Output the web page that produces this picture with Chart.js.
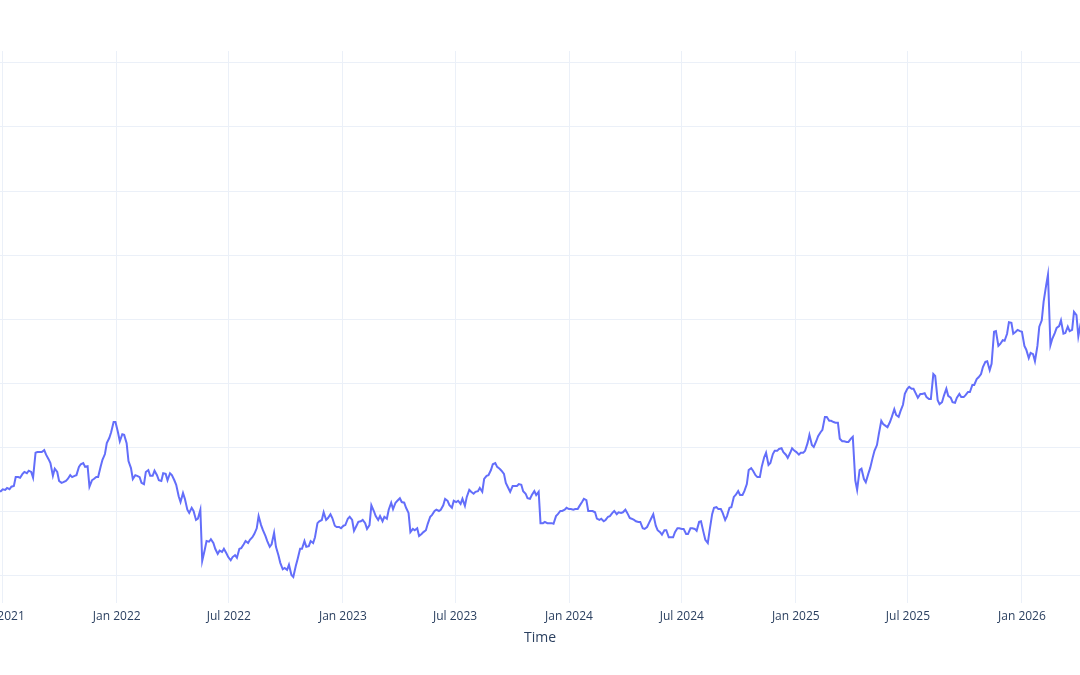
<!DOCTYPE html>
<html lang="en">
<head>
<meta charset="UTF-8">
<title>Time</title>
<script src="https://cdn.jsdelivr.net/npm/chart.js@4/dist/chart.umd.min.js"></script>
<style>
  html, body { margin: 0; padding: 0; background: #fff; }
  canvas { display: block; }
</style>
</head>
<body>
<canvas id="chart" width="1080" height="675"></canvas>
<script>
// closes sampled twice a week (Monday, Thursday), starting on firstMonday
const firstMonday = '2021-06-21';
const sampleWeekdays = [0, 3];
const closes = [
  53.0, 53.1, 53.1, 53.4, 53.3, 53.6, 53.4, 53.8, 53.9, 55.3, 55.3, 55.2,
  55.8, 56.1, 55.9, 56.3, 56.1, 55.2, 59.1, 59.2, 59.2, 59.2, 59.5, 58.8,
  58.1, 57.5, 55.5, 56.6, 56.1, 54.7, 54.4, 54.5, 54.7, 55.0, 55.6, 55.3,
  55.5, 55.6, 56.9, 57.3, 57.5, 56.9, 57.0, 53.8, 54.8, 55.0, 55.3, 55.3,
  56.9, 58.0, 58.9, 60.6, 61.4, 62.3, 63.9, 63.9, 62.3, 60.9, 62.0, 61.9,
  60.6, 57.8, 56.7, 55.0, 55.6, 55.5, 55.3, 54.4, 54.2, 56.1, 56.4, 55.5,
  55.5, 56.3, 55.6, 54.8, 54.7, 55.9, 55.8, 54.8, 55.9, 55.6, 54.8, 54.1,
  52.3, 51.4, 52.8, 51.9, 50.2, 49.7, 50.5, 50.0, 48.6, 48.8, 50.2, 42.2,
  43.9, 45.3, 45.2, 45.6, 45.0, 44.1, 43.3, 43.8, 43.6, 44.1, 43.4, 42.8,
  42.3, 42.8, 43.1, 42.7, 44.1, 44.2, 44.8, 45.3, 45.0, 45.5, 45.9, 46.4,
  47.3, 49.2, 47.8, 47.0, 46.1, 45.3, 44.4, 44.8, 46.6, 44.4, 43.1, 41.9,
  40.9, 41.1, 40.8, 41.6, 40.0, 39.7, 41.4, 42.5, 44.1, 44.1, 45.3, 44.4,
  44.5, 45.3, 45.0, 45.9, 48.1, 48.4, 48.6, 49.8, 48.6, 48.9, 49.5, 48.9,
  47.7, 47.5, 47.5, 47.3, 47.7, 47.8, 48.8, 49.1, 48.6, 46.9, 47.7, 48.3,
  48.4, 48.6, 48.1, 47.2, 47.8, 50.9, 50.0, 49.2, 48.6, 49.2, 48.4, 49.1,
  48.8, 50.2, 51.3, 50.3, 51.3, 51.6, 52.0, 51.4, 51.3, 50.5, 49.7, 46.7,
  47.2, 47.0, 47.3, 46.1, 46.4, 46.7, 47.0, 48.0, 49.1, 49.4, 50.0, 50.2,
  50.0, 50.2, 50.9, 51.9, 51.6, 50.9, 50.5, 51.6, 51.4, 51.6, 51.1, 51.9,
  50.8, 52.2, 53.3, 53.0, 52.7, 53.0, 53.1, 53.6, 53.0, 55.0, 55.5, 55.6,
  56.4, 57.3, 57.5, 56.9, 56.6, 56.3, 55.8, 54.4, 53.6, 53.0, 53.9, 53.9,
  53.9, 54.2, 54.1, 53.1, 52.7, 52.0, 51.9, 52.5, 53.1, 52.5, 53.0, 48.1,
  48.1, 48.3, 48.1, 48.1, 48.1, 48.0, 49.2, 49.5, 50.0, 50.0, 50.2, 50.5,
  50.3, 50.3, 50.2, 50.3, 50.3, 50.8, 51.4, 51.9, 51.7, 50.0, 50.0, 50.0,
  49.8, 48.8, 48.6, 48.8, 48.4, 48.6, 49.1, 49.2, 49.7, 50.0, 49.5, 49.8,
  49.7, 49.8, 50.2, 49.7, 48.9, 48.8, 48.6, 48.4, 48.3, 48.3, 47.3, 47.2,
  47.5, 48.1, 48.9, 49.5, 47.7, 47.0, 46.7, 46.3, 47.0, 47.0, 45.9, 45.9,
  45.9, 46.7, 47.3, 47.3, 47.2, 47.2, 46.4, 46.4, 47.3, 47.3, 47.2, 46.9,
  48.3, 48.4, 46.7, 45.5, 45.0, 47.0, 49.5, 50.5, 50.6, 50.3, 50.3, 49.7,
  48.6, 49.2, 50.5, 50.6, 52.2, 52.5, 53.1, 52.5, 52.5, 53.1, 54.2, 56.4,
  56.7, 56.3, 55.6, 55.3, 55.3, 56.9, 58.4, 59.1, 57.2, 57.5, 58.9, 59.4,
  59.4, 59.7, 59.8, 59.2, 58.8, 58.3, 59.1, 59.8, 59.4, 59.2, 58.8, 59.1,
  59.1, 59.4, 60.6, 61.9, 60.3, 60.0, 60.9, 61.7, 62.3, 62.7, 64.7, 64.7,
  64.1, 64.1, 63.9, 63.8, 63.8, 61.3, 60.9, 60.9, 60.8, 60.8, 61.3, 61.6,
  54.8, 53.3, 56.4, 56.6, 55.0, 54.5, 55.8, 56.7, 58.3, 59.4, 60.3, 62.0,
  64.1, 63.6, 63.3, 63.1, 63.9, 64.7, 65.9, 65.0, 64.7, 65.6, 66.6, 68.3,
  69.1, 69.4, 69.1, 69.1, 68.3, 67.7, 68.3, 68.3, 68.4, 67.8, 67.5, 67.5,
  71.4, 71.1, 67.3, 66.7, 67.0, 68.0, 69.1, 68.0, 67.7, 67.0, 66.9, 67.7,
  68.3, 67.8, 67.8, 68.1, 68.6, 68.6, 69.7, 69.7, 70.6, 70.9, 71.4, 72.5,
  73.3, 73.4, 72.0, 73.0, 78.0, 78.1, 75.8, 76.1, 76.7, 76.6, 77.7, 79.5,
  79.4, 77.7, 78.0, 78.3, 78.1, 78.0, 75.8, 75.2, 73.9, 74.7, 74.5, 73.4,
  75.8, 78.8, 79.8, 82.7, 85.2, 86.9, 75.9, 76.9, 77.8, 78.6, 78.9, 79.8,
  77.7, 77.8, 78.8, 78.1, 78.3, 81.1, 80.6, 77.3, 79.4, 79.8, 79.8
];

const tickDates  = ['2021-07-01', '2022-01-01', '2022-07-01', '2023-01-01', '2023-07-01',
                    '2024-01-01', '2024-07-01', '2025-01-01', '2025-07-01', '2026-01-01'];
const tickLabels = ['Jul 2021', 'Jan 2022', 'Jul 2022', 'Jan 2023', 'Jul 2023',
                    'Jan 2024', 'Jul 2024', 'Jan 2025', 'Jul 2025', 'Jan 2026'];
const yTicks = [40, 50, 60, 70, 80, 90, 100, 110, 120];

// visible window (the plot is cropped on both sides)
const xMin = Date.parse('2021-06-26T15:00:00Z');
const xMax = Date.parse('2026-04-04T17:00:00Z');
const yMin = 35.625;
const yMax = 121.875;

const DAY = 864e5;
const start = Date.parse(firstMonday);
const points = closes.map((v, i) => ({
  x: start + (Math.floor(i / 2) * 7 + sampleWeekdays[i % 2]) * DAY,
  y: v,
}));

const gridColor = '#ebf0f8';
const fontColor = '#2a3f5f';
const fontFamily = '"Open Sans", verdana, arial, sans-serif';

new Chart(document.getElementById('chart'), {
  type: 'line',
  data: {
    datasets: [{
      data: points,
      borderColor: '#636efa',
      borderWidth: 2,
      pointRadius: 0,
      tension: 0,
      fill: false,
    }],
  },
  options: {
    responsive: false,
    animation: false,
    devicePixelRatio: 1,
    layout: { padding: { top: 51, bottom: 29, left: 0, right: 0 } },
    plugins: { legend: { display: false }, tooltip: { enabled: false } },
    scales: {
      x: {
        type: 'linear',
        min: xMin,
        max: xMax,
        afterBuildTicks: s => { s.ticks = tickDates.map(d => ({ value: Date.parse(d) })); },
        // keep the plot full width; first/last labels may run off the edge
        afterFit: s => { s.paddingLeft = 0; s.paddingRight = 0; s.height = 43; },
        grid: { color: gridColor, lineWidth: 1, drawTicks: false },
        border: { display: false },
        ticks: {
          padding: 6,
          color: fontColor,
          font: { family: fontFamily, size: 12 },
          autoSkip: false,
          maxRotation: 0,
          callback: (v, i) => tickLabels[i],
        },
        title: {
          display: true,
          text: 'Time',
          color: fontColor,
          font: { family: fontFamily, size: 14 },
          padding: { top: 0, bottom: 0 },
        },
      },
      y: {
        min: yMin,
        max: yMax,
        afterBuildTicks: s => { s.ticks = yTicks.map(v => ({ value: v })); },
        grid: { color: gridColor, lineWidth: 1, drawTicks: false },
        border: { display: false },
        ticks: { display: false },
      },
    },
  },
});
</script>
</body>
</html>
